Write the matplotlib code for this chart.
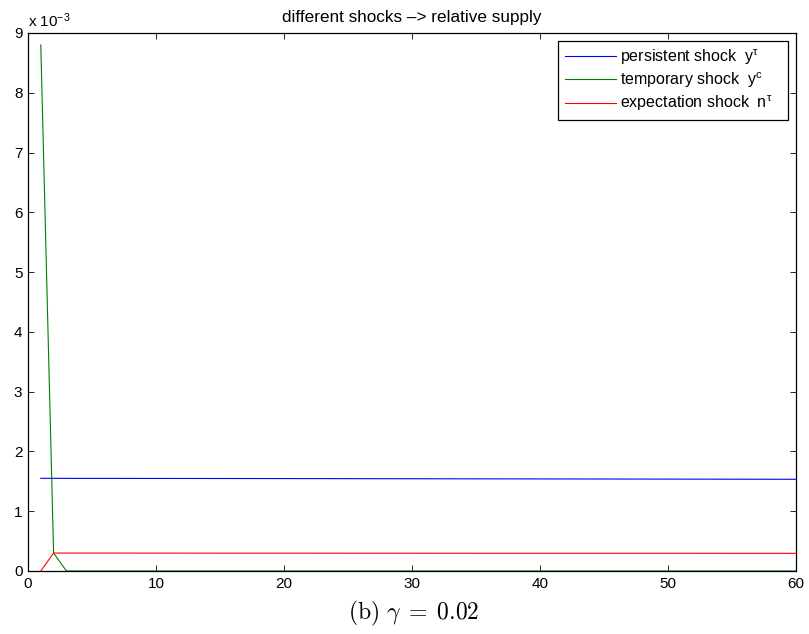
import matplotlib.pyplot as plt
import matplotlib.ticker as mticker

plt.rcParams["font.family"] = ["Liberation Sans", "DejaVu Sans"]
plt.rcParams["mathtext.fontset"] = "custom"
plt.rcParams["mathtext.rm"] = "Liberation Sans"
plt.rcParams["mathtext.it"] = "Liberation Sans"

# impulse responses of relative supply (break points of the piecewise-linear paths)
periods = [1, 2, 3, 5, 10, 15, 20, 30, 40, 50, 60]
persistent = [1.550e-3, 1.550e-3, 1.549e-3, 1.549e-3, 1.548e-3, 1.547e-3,
              1.546e-3, 1.543e-3, 1.540e-3, 1.537e-3, 1.534e-3]
temporary = [8.80e-3, 0.30e-3, 0.0, 0.0, 0.0, 0.0, 0.0, 0.0, 0.0, 0.0, 0.0]
expectation = [0.0, 0.300e-3, 0.300e-3, 0.300e-3, 0.299e-3, 0.298e-3,
               0.298e-3, 0.297e-3, 0.296e-3, 0.296e-3, 0.295e-3]

labels = [r"persistent shock  y$^{\tau}$   ",
          r"temporary shock  y$^{c}$   ",
          r"expectation shock  n$^{\tau}$   "]
xticks = [0, 10, 20, 30, 40, 50, 60]
yticks = [0, 1e-3, 2e-3, 3e-3, 4e-3, 5e-3, 6e-3, 7e-3, 8e-3, 9e-3]

fig = plt.figure(figsize=(8.09, 6.34), dpi=100)
ax = fig.add_axes([0.0346, 0.0994, 0.9494, 0.8486])

ax.plot(periods, persistent, color=(0, 0, 1), lw=0.8, label=labels[0])
ax.plot(periods, temporary, color=(0, 0.5, 0), lw=0.8, label=labels[1])
ax.plot(periods, expectation, color=(1, 0, 0), lw=0.8, label=labels[2])

ax.set_xlim(0, 60)
ax.set_ylim(0, 9e-3)
ax.set_xticks(xticks)
ax.set_yticks(yticks)
ax.yaxis.set_major_formatter(mticker.FuncFormatter(lambda v, p: f"{v * 1e3:g}"))
ax.tick_params(direction="in", top=True, right=True, length=4, width=0.6,
               labelsize=11, pad=4)
for s in ax.spines.values():
    s.set_linewidth(0.9)

ax.text(0.0, 1.006, r"x 10$^{-3}$", transform=ax.transAxes, fontsize=11,
        ha="left", va="bottom")
ax.set_title("different shocks \u2013> relative supply", fontsize=12.3, pad=8)

leg = ax.legend(loc="upper right", fontsize=11.5, fancybox=False, framealpha=1,
                edgecolor="black", borderaxespad=0.5, handlelength=3.2,
                labelspacing=0.22, handletextpad=0.25, borderpad=0.4)
leg.get_frame().set_linewidth(0.9)

fig.text(0.511, 0.033, r"$\mathrm{(b)}\ \gamma\;=\;0.02$", fontsize=17,
         ha="center", va="center", math_fontfamily="cm")

fig.savefig("out.png", dpi=100)
